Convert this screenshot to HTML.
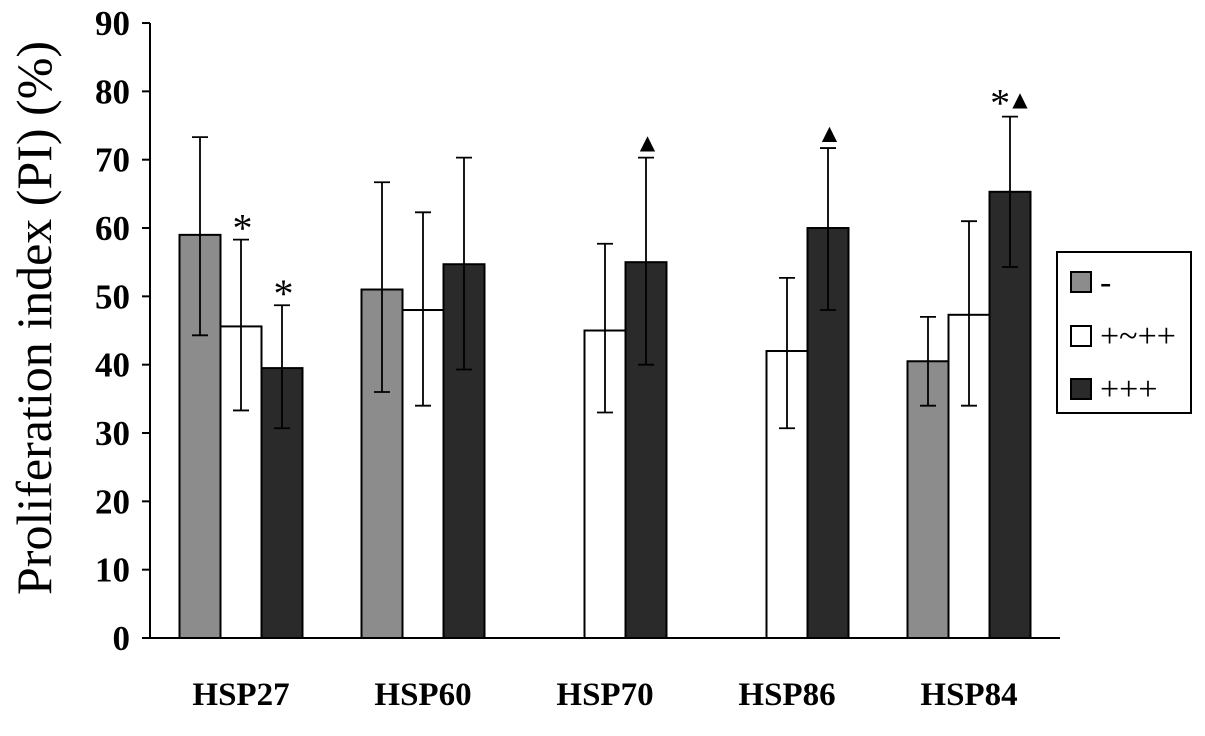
<!DOCTYPE html>
<html><head><meta charset="utf-8"><style>
body{margin:0;background:#fff}
svg text{font-family:"Liberation Serif",serif;fill:#000}
</style></head><body>
<svg id="c" width="1205" height="731" viewBox="0 0 1205 731"></svg>
<script>
const categories=["HSP27","HSP60","HSP70","HSP86","HSP84"];
const seriesNames=["-","+~++","+++"];
const negValues=[59,51,null,null,40.5];
const midValues=[45.6,48,45,42,47.3];
const highValues=[39.5,54.7,55,60,65.3];
const negErrHi=[73.3,66.7,null,null,47];
const negErrLo=[44.3,36,null,null,34];
const midErrHi=[58.3,62.3,57.7,52.7,61];
const midErrLo=[33.3,34,33,30.7,34];
const highErrHi=[48.7,70.3,70.3,71.7,76.3];
const highErrLo=[30.7,39.3,40,48,54.3];
const yTicks=[0,10,20,30,40,50,60,70,80,90];
const marks=[["","*","*"],["","",""],["","","▲"],["","","▲"],["","","*▲"]];

const NS="http://www.w3.org/2000/svg";
const svg=document.getElementById('c');
function el(t,a,p){const e=document.createElementNS(NS,t);for(const k in a)e.setAttribute(k,a[k]);(p||svg).appendChild(e);return e;}
const y0=638,pxPer=6.833;
const Y=v=>y0-v*pxPer;
const x0=150,x1=1060,gw=(x1-x0)/categories.length,bw=41;
const X=(g,s)=>x0+gw*g+gw/2-bw*1.5+s*bw;

let a=el('line',{x1:x0,y1:Y(90),x2:x0,y2:y0,stroke:'#000','stroke-width':2});


a=el('line',{x1:x0,y1:y0,x2:x1,y2:y0,stroke:'#000','stroke-width':2});


yTicks.forEach(t=>{
  el('line',{x1:x0-8,y1:Y(t),x2:x0,y2:Y(t),stroke:'#000','stroke-width':2});
  const tx=el('text',{x:x0-20,y:Y(t)+12,'text-anchor':'end','font-size':35,'font-weight':'bold'});
  tx.textContent=t;
  
  
});
categories.forEach((c,g)=>{
  const tx=el('text',{x:x0+gw*g+gw/2,y:705,'text-anchor':'middle','font-size':33,'font-weight':'bold'});
  tx.textContent=c;
  
  
});
const yt=el('text',{x:0,y:0,'text-anchor':'middle','font-size':50,transform:'translate(51,318) rotate(-90)'});
yt.textContent="Proliferation index (PI) (%)";



const fills=['#8c8c8c','#ffffff','#2a2a2a'];
const vals=[negValues,midValues,highValues],his=[negErrHi,midErrHi,highErrHi],los=[negErrLo,midErrLo,highErrLo];
categories.forEach((c,g)=>{
  for(let s=0;s<3;s++){
    const v=vals[s][g]; if(v==null)continue;
    const r=el('rect',{x:X(g,s),y:Y(v),width:bw,height:y0-Y(v),fill:fills[s],stroke:'#000','stroke-width':2});
    
    
    const cx=X(g,s)+bw/2;
    const e=el('path',{d:`M${cx},${Y(his[s][g])}V${Y(los[s][g])}M${cx-8},${Y(his[s][g])}H${cx+8}M${cx-8},${Y(los[s][g])}H${cx+8}`,stroke:'#000','stroke-width':1.8,fill:'none'});
    
    
    if(marks[g][s]){
      const m=el('text',{x:cx,y:Y(his[s][g])-6,'text-anchor':'middle','font-size':26,'font-family':'DejaVu Sans','letter-spacing':'-3'});
      m.textContent=marks[g][s];
      if(marks[g][s]==='*'){m.setAttribute('font-size',40);m.setAttribute('y',Y(his[s][g])+2);}
      if(marks[g][s]==='*▲'){m.textContent='';m.setAttribute('y',Y(his[s][g])-8);
        const t1=el('tspan',{'font-size':40,dy:8},m);t1.textContent='*';
        const t2=el('tspan',{'font-size':26,dy:-8},m);t2.textContent='▲';}
      
      
    }
  }
});
const lg=el('rect',{x:1057,y:252,width:134,height:161,fill:'#fff',stroke:'#000','stroke-width':2});


const ly=[282,336,389];
seriesNames.forEach((n,i)=>{
  const r=el('rect',{x:1071,y:ly[i]-10,width:20,height:20,fill:fills[i],stroke:'#000','stroke-width':2});
  
  
  const t=el('text',{x:1100,y:ly[i]+11,'font-size':34});
  t.textContent=n;
  
  
});
</script>
</body></html>
